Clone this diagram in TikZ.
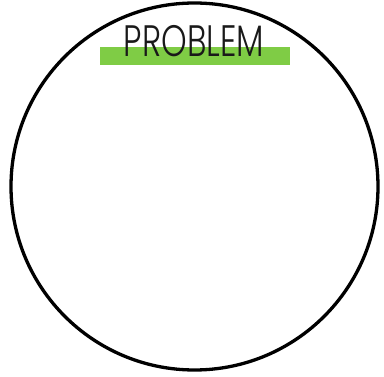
\documentclass[tikz,border=0pt]{standalone}
\usepackage{fontspec}
\usepackage{xcolor}
\usepackage{tikz}
\usetikzlibrary{positioning}
\newfontfamily\handfont{Poppins Light}
\definecolor{band}{HTML}{7FCC45}

\begin{document}
\begin{tikzpicture}[
    x=1pt, y=-1pt,
    ring/.style={circle, draw=black, line width=3.3pt, minimum size=367pt, inner sep=0pt},
    strip/.style={fill=band, minimum width=190pt, minimum height=18pt, inner sep=0pt},
    heading/.style={font=\handfont\fontsize{44}{44}\selectfont, inner sep=0pt, anchor=base, xscale=0.74, text=black!90},
  ]
  \useasboundingbox (0,0) rectangle (384,377);
  \node[ring] (circ) at (194.5,186.5) {};
  \node[strip] (bar) at (195,56) {};
  \node[heading] (title) at (194,56.5) {PROBLEM};
\end{tikzpicture}
\end{document}
